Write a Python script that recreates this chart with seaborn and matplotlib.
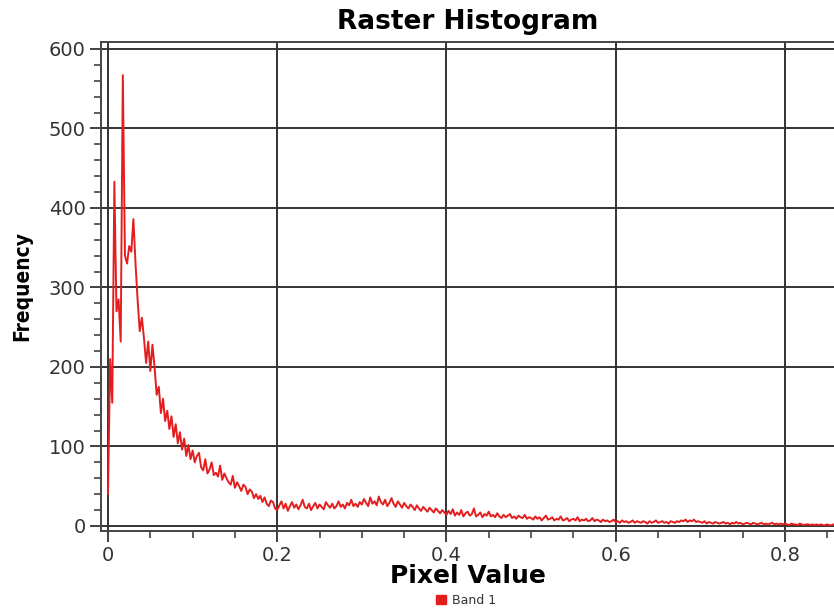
import numpy as np
import pandas as pd
import seaborn as sns
import matplotlib.pyplot as plt
from matplotlib.patches import Patch
from matplotlib.ticker import MultipleLocator

# histogram bins (pixel value, step 0.0025) and counts
bin_step = 0.0025
counts = [
    # 0.0 - 0.1
    40, 210, 155, 433, 270, 285, 232, 567, 340, 330,
    352, 345, 386, 330, 284, 245, 262, 236, 205, 232,
    195, 228, 200, 165, 175, 142, 160, 132, 145, 122,
    138, 112, 128, 104, 118, 96, 110, 88, 102, 84,
    # 0.1 - 0.2
    95, 80, 88, 92, 74, 70, 84, 66, 71, 80,
    64, 67, 62, 76, 58, 66, 60, 55, 52, 63,
    48, 55, 50, 44, 52, 49, 40, 46, 43, 35,
    40, 34, 38, 30, 36, 28, 25, 32, 30, 22,
    # 0.2 - 0.3
    20, 26, 31, 22, 28, 19, 25, 30, 23, 27,
    21, 26, 33, 24, 22, 28, 20, 25, 29, 22,
    27, 24, 21, 30, 26, 23, 28, 22, 25, 31,
    24, 27, 22, 29, 26, 33, 25, 28, 24, 30,
    # 0.3 - 0.4
    27, 34, 29, 25, 36, 28, 31, 26, 37, 30,
    27, 33, 25, 29, 35, 28, 24, 31, 27, 23,
    29, 25, 22, 27, 24, 20, 26, 22, 19, 24,
    21, 18, 23, 20, 17, 22, 19, 16, 20, 17,
    # 0.4 - 0.5
    14, 19, 15, 21, 13, 17, 14, 20, 12, 16,
    18, 13, 15, 22, 12, 14, 17, 11, 15, 13,
    18, 12, 14, 11, 16, 12, 10, 14, 11, 13,
    15, 10, 12, 9, 13, 11, 10, 14, 9, 11,
    # 0.5 - 0.6
    10, 8, 12, 9, 11, 7, 10, 13, 8, 9,
    11, 7, 9, 8, 12, 7, 8, 10, 6, 8,
    9, 7, 11, 6, 8, 7, 9, 6, 7, 10,
    6, 8, 7, 5, 8, 6, 7, 5, 6, 8,
    # 0.6 - 0.7
    5, 6, 4, 7, 5, 6, 4, 5, 7, 4,
    6, 5, 4, 6, 5, 3, 6, 4, 5, 7,
    4, 5, 6, 4, 5, 3, 6, 5, 4, 6,
    5, 7, 6, 8, 5, 7, 6, 8, 5, 6,
    # 0.7 - 0.8
    5, 4, 6, 3, 5, 4, 3, 5, 4, 3,
    4, 5, 3, 4, 2, 4, 3, 5, 3, 4,
    2, 3, 4, 3, 2, 4, 3, 2, 3, 4,
    2, 3, 2, 3, 4, 2, 3, 2, 3, 2,
    # 0.8 - 0.86
    3, 2, 1, 3, 2, 2, 1, 3, 2, 1,
    2, 2, 1, 2, 1, 2, 1, 2, 1, 1,
    2, 1, 1, 2,
]
pixel_value = np.arange(len(counts)) * bin_step
series_name = "Band 1"
line_color = "#e41e1e"


def main():
  sns.set_theme(style="white")
  plt.rcParams['font.family'] = ['DejaVu Sans']

  df = pd.DataFrame({"Pixel Value": pixel_value, "Frequency": counts})

  fig = plt.figure(figsize=(8.34, 6.09), dpi=100)
  ax = fig.add_axes([0.1211, 0.1281, 0.8789, 0.8030])

  sns.lineplot(data=df, x="Pixel Value", y="Frequency", ax=ax,
               color=line_color, linewidth=1.4, zorder=3)

  ax.set_xlim(-0.0083, 0.858)
  ax.set_ylim(-6.3, 608.8)

  ax.xaxis.set_major_locator(MultipleLocator(0.2))
  ax.xaxis.set_minor_locator(MultipleLocator(0.05))
  ax.yaxis.set_major_locator(MultipleLocator(100))
  ax.yaxis.set_minor_locator(MultipleLocator(20))
  ax.set_xticklabels(["0" if abs(t) < 1e-9 else f"{t:g}" for t in ax.get_xticks()])

  ax.grid(True, which="major", color="#333333", linewidth=1.4, zorder=1)
  for side in ["left", "top", "bottom"]:
    ax.spines[side].set_color("#444444")
    ax.spines[side].set_linewidth(1.4)
  ax.spines["right"].set_visible(False)

  ax.tick_params(axis="both", which="major", direction="out", length=8,
                 width=1.3, color="#333333", labelsize=14, labelcolor="#333333",
                 left=True, bottom=True, pad=3)
  ax.tick_params(axis="both", which="minor", direction="out", length=5,
                 width=1.1, color="#333333", left=True, bottom=True)

  ax.set_title("Raster Histogram", fontsize=19, fontweight="bold", pad=9,
               color="black")
  ax.set_xlabel("Pixel Value", fontsize=18, fontweight="bold", labelpad=-1,
                color="black")
  ax.set_ylabel("Frequency", fontsize=15, fontweight="bold",
                fontstretch="condensed", labelpad=12, color="black")

  handle = Patch(facecolor=line_color, edgecolor=line_color, label=series_name)
  fig.legend(handles=[handle], loc="center", bbox_to_anchor=(0.559, 0.014),
             frameon=False, fontsize=9, handlelength=0.8, handleheight=0.8,
             handletextpad=0.5, labelcolor="#333333")

  fig.savefig("out.png", dpi=100)


if __name__ == "__main__":
  main()
